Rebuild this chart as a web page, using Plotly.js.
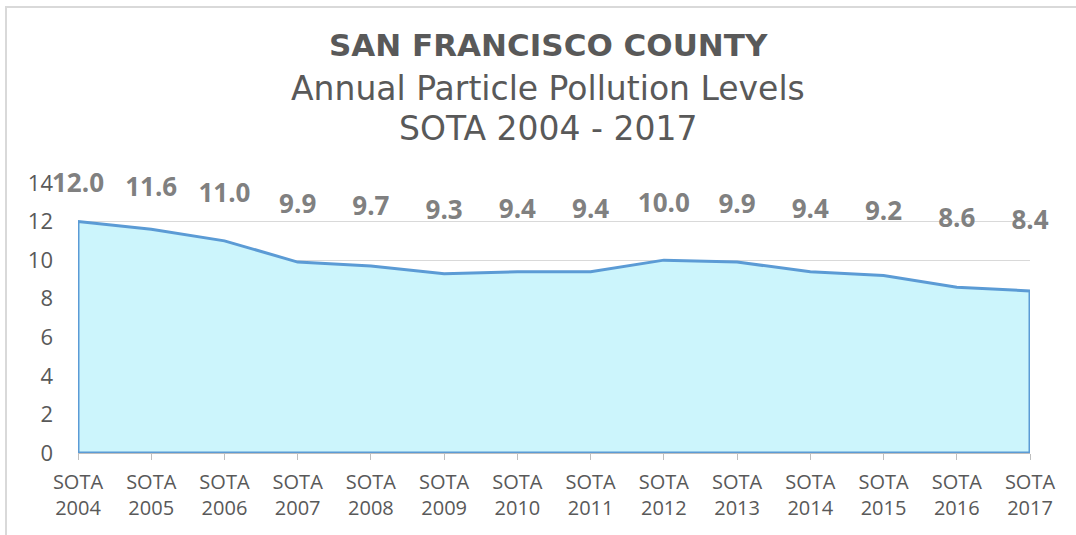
<!DOCTYPE html>
<html>
<head>
<meta charset="utf-8">
<script src="https://cdn.plot.ly/plotly-3.0.1.min.js"></script>
<style>
html,body{margin:0;padding:0;background:#fff;}
#frame{position:absolute;left:5px;top:6px;width:1080px;height:540px;border:2px solid #d9d9d9;box-sizing:border-box;}
#chart{position:absolute;left:0;top:0;width:1076px;height:535px;}
</style>
</head>
<body>
<div id="frame"></div>
<div id="chart"></div>
<script>
var categories = ["SOTA 2004","SOTA 2005","SOTA 2006","SOTA 2007","SOTA 2008","SOTA 2009","SOTA 2010","SOTA 2011","SOTA 2012","SOTA 2013","SOTA 2014","SOTA 2015","SOTA 2016","SOTA 2017"];
var values = [12.0,11.6,11.0,9.9,9.7,9.3,9.4,9.4,10.0,9.9,9.4,9.2,8.6,8.4];
var tickLabels = categories.map(function(c){return c.replace(" ","<br>");});
var yTicks = [0,2,4,6,8,10,12,14];

var idx = categories.map(function(_,i){return i;});
var n = categories.length;
var polyX = [0].concat(idx).concat([n-1, 0]);
var polyY = [0].concat(values).concat([0, 0]);

var fontFam = "'Open Sans', sans-serif";
var titleFam = "'DejaVu Sans', sans-serif";

var traces = [
  {x: polyX, y: polyY, type:'scatter', mode:'lines', fill:'toself', fillcolor:'#ccf5fc',
   line:{color:'#5b9bd5', width:3}, hoverinfo:'skip', showlegend:false},
  {x: idx, y: values, type:'scatter', mode:'text', yaxis:'y2',
   text: values.map(function(v){return v.toFixed(1);}), textposition:'middle center',
   textfont:{family:fontFam, size:26, color:'#808080', weight:'bold'},
   cliponaxis:false, showlegend:false, hoverinfo:'skip'}
];

var layout = {
  width:1076, height:535,
  margin:{l:78, r:46, t:183, b:82},
  paper_bgcolor:'rgba(0,0,0,0)', plot_bgcolor:'rgba(0,0,0,0)',
  font:{family:fontFam, color:'#595959'},
  xaxis:{range:[0, n-1], tickvals:idx, ticktext:tickLabels, showgrid:false, zeroline:false,
    showline:true, linecolor:'#bfbfbf', linewidth:1, ticks:'outside', ticklen:6, tickcolor:'#bfbfbf',
    ticklabelstandoff:5,
    tickfont:{size:20, color:'#595959'}, fixedrange:true},
  yaxis:{range:[0,14], tickvals:yTicks, showgrid:true, gridcolor:'#d9d9d9', gridwidth:1,
    zeroline:false, showline:false, ticks:'', ticklabelstandoff:24,
    tickfont:{size:22, color:'#595959'}, fixedrange:true},
  yaxis2:{overlaying:'y', range:[-14.07, 12.2], visible:false, fixedrange:true},
  annotations:[
    {text:'<b>SAN FRANCISCO COUNTY</b>', xref:'paper', yref:'paper', x:0.494, y:0, yshift:408, showarrow:false,
     font:{size:31, color:'#595959', family:titleFam}, xanchor:'center', yanchor:'middle'},
    {text:'Annual Particle Pollution Levels', xref:'paper', yref:'paper', x:0.494, y:0, yshift:365, showarrow:false,
     font:{size:33, color:'#595959', family:titleFam}, xanchor:'center', yanchor:'middle'},
    {text:'SOTA 2004 - 2017', xref:'paper', yref:'paper', x:0.494, y:0, yshift:325, showarrow:false,
     font:{size:33, color:'#595959', family:titleFam}, xanchor:'center', yanchor:'middle'}
  ]
};

Plotly.newPlot('chart', traces, layout, {displayModeBar:false, staticPlot:true});
</script>
</body>
</html>
